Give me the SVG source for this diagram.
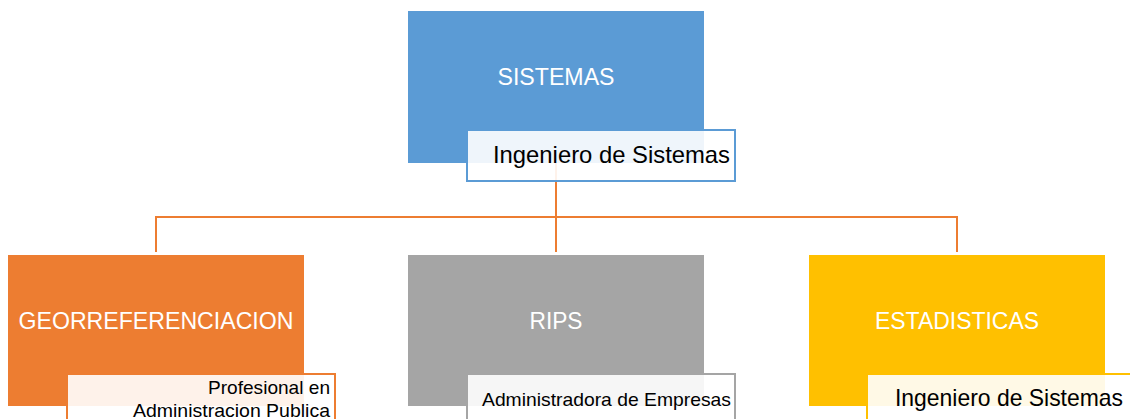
<svg xmlns="http://www.w3.org/2000/svg" width="1130" height="419" viewBox="0 0 1130 419">
<style>
.hdr{font-family:"Liberation Sans",Arial,sans-serif;font-size:24px;fill:#ffffff;text-anchor:middle}
.lbl{font-family:"Liberation Sans",Arial,sans-serif;fill:#000000;text-anchor:end}
.big{font-size:24px}
.small{font-size:19px}
.lab{fill:#ffffff;fill-opacity:0.9;stroke-width:2}
.conn{fill:none;stroke:#ED7D31;stroke-width:2}
</style>
<rect width="1130" height="419" fill="#ffffff"/>
<g id="connectors">
<path class="conn" d="M556,163 V217"/>
<path class="conn" d="M156,252 V217 H957 V252"/>
<path class="conn" d="M556,217 V252"/>
</g>
<g id="node-sistemas">
<rect x="408" y="11" width="296" height="152" fill="#5B9BD5"/>
<text class="hdr" x="556" y="85" textLength="117" lengthAdjust="spacingAndGlyphs">SISTEMAS</text>
<rect class="lab" x="467" y="130" width="268" height="51" stroke="#5B9BD5"/>
<text class="lbl big" x="730" y="163" textLength="237" lengthAdjust="spacingAndGlyphs">Ingeniero de Sistemas</text>
</g>
<g id="node-georreferenciacion">
<rect x="8" y="255" width="296" height="151" fill="#ED7D31"/>
<text class="hdr" x="156" y="329" textLength="275" lengthAdjust="spacingAndGlyphs">GEORREFERENCIACION</text>
<rect class="lab" x="67" y="374" width="268" height="51" stroke="#ED7D31"/>
<text class="lbl small" x="330" y="394" textLength="122" lengthAdjust="spacingAndGlyphs">Profesional en</text>
<text class="lbl small" x="330" y="417" textLength="197" lengthAdjust="spacingAndGlyphs">Administracion Publica</text>
</g>
<g id="node-rips">
<rect x="408" y="255" width="296" height="151" fill="#A5A5A5"/>
<text class="hdr" x="556" y="329" textLength="53" lengthAdjust="spacingAndGlyphs">RIPS</text>
<rect class="lab" x="467" y="374" width="268" height="51" stroke="#A5A5A5"/>
<text class="lbl small" x="731" y="406" textLength="249" lengthAdjust="spacingAndGlyphs">Administradora de Empresas</text>
</g>
<g id="node-estadisticas">
<rect x="809" y="255" width="296" height="151" fill="#FFC000"/>
<text class="hdr" x="957" y="329" textLength="164" lengthAdjust="spacingAndGlyphs">ESTADISTICAS</text>
<rect class="lab" x="867" y="374" width="264" height="51" stroke="#FFC000"/>
<text class="lbl big" x="1123" y="406" textLength="228" lengthAdjust="spacingAndGlyphs">Ingeniero de Sistemas</text>
</g>
</svg>
